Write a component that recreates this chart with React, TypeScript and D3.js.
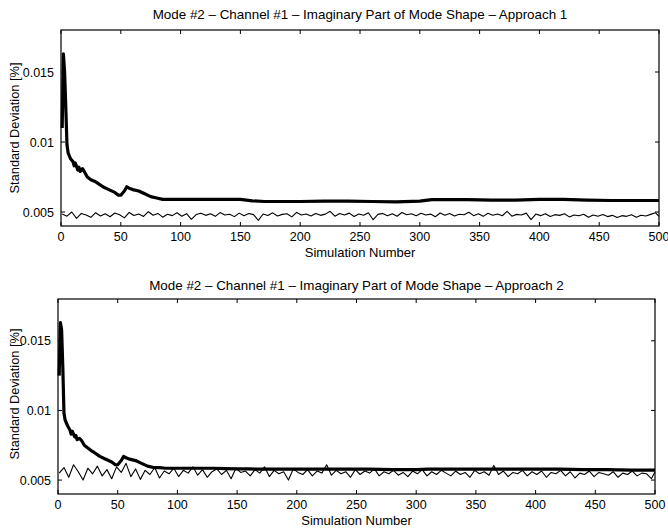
import React from "react";
import * as d3 from "d3";

// ---- data ----
const titles = [
  "Mode #2 – Channel #1 – Imaginary Part of Mode Shape – Approach 1",
  "Mode #2 – Channel #1 – Imaginary Part of Mode Shape – Approach 2",
];
const xLabel = "Simulation Number";
const yLabel = "Standard Deviation [%]";
const xTicks = [0, 50, 100, 150, 200, 250, 300, 350, 400, 450, 500];
const yTicks = [0.005, 0.01, 0.015];
const yTickLabels = ["0.005", "0.01", "0.015"];

// simulations at which the thin (per-run) series were read
const thinSims = [
  1, 5, 9, 13, 17, 21, 25, 29, 33, 37, 41, 45, 49, 53, 57, 61, 65, 69, 73, 77,
  81, 85, 89, 93, 97, 101, 105, 109, 113, 117, 121, 125, 129, 133, 137, 141, 145, 149, 153, 157,
  161, 165, 169, 173, 177, 181, 185, 189, 193, 197, 201, 205, 209, 213, 217, 221, 225, 229, 233, 237,
  241, 245, 249, 253, 257, 261, 265, 269, 273, 277, 281, 285, 289, 293, 297, 301, 305, 309, 313, 317,
  321, 325, 329, 333, 337, 341, 345, 349, 353, 357, 361, 365, 369, 373, 377, 381, 385, 389, 393, 397,
  401, 405, 409, 413, 417, 421, 425, 429, 433, 437, 441, 445, 449, 453, 457, 461, 465, 469, 473, 477,
  481, 485, 489, 493, 497, 500,
];

const thin1 = [
  0.00485, 0.0047, 0.005, 0.00455, 0.0049, 0.00478, 0.00462, 0.00495, 0.00472, 0.00488,
  0.00466, 0.00493, 0.0048, 0.00458, 0.00497, 0.00475, 0.00486, 0.00468, 0.00502, 0.00477,
  0.0049, 0.00463, 0.00484, 0.00474, 0.00495, 0.0047, 0.00488, 0.00448, 0.00482, 0.00491,
  0.00476, 0.00487, 0.00469, 0.00496, 0.00479, 0.00484, 0.00467, 0.00492, 0.00473, 0.00489,
  0.00481, 0.0044, 0.00486, 0.00475, 0.00494, 0.00471, 0.00483, 0.00488, 0.00465, 0.00497,
  0.00478, 0.00486, 0.00472, 0.0049, 0.00476, 0.00485, 0.00505, 0.0047, 0.00489, 0.00479,
  0.00492, 0.00468, 0.00486, 0.00477, 0.00495, 0.00445, 0.00483, 0.0049, 0.00474, 0.00488,
  0.0047, 0.00496, 0.0048, 0.00487, 0.00473, 0.00491, 0.00478, 0.00485, 0.00466, 0.00493,
  0.00476, 0.00489, 0.00471, 0.00484, 0.0048, 0.00498, 0.00474, 0.00487, 0.00469, 0.00491,
  0.00477, 0.00486, 0.00473, 0.00504, 0.0047, 0.00483, 0.00479, 0.00492, 0.00446, 0.00485,
  0.00474, 0.00488, 0.00468, 0.00481, 0.00476, 0.00487, 0.00465, 0.00479, 0.00473, 0.00484,
  0.00462, 0.00478, 0.0047, 0.00482, 0.00467, 0.00476, 0.0046, 0.00474, 0.00469, 0.0048,
  0.00463, 0.00477, 0.00471, 0.00483, 0.00495, 0.00468,
];

const thin2 = [
  0.0055, 0.0059, 0.0052, 0.0061, 0.0056, 0.005, 0.00585, 0.00545, 0.006, 0.0053,
  0.00575, 0.0051, 0.00595, 0.00555, 0.0062, 0.00525, 0.0058, 0.00505, 0.0057, 0.0054,
  0.0059, 0.00515, 0.00565, 0.00545, 0.00585, 0.00525, 0.0057, 0.0055, 0.00595, 0.00535,
  0.00575, 0.0052, 0.0056, 0.0058, 0.0054, 0.0057, 0.0051, 0.00585, 0.00555, 0.00565,
  0.0053, 0.00575, 0.0055, 0.00595, 0.00525, 0.0057, 0.00545, 0.0056, 0.005, 0.0058,
  0.00555, 0.0054, 0.00575, 0.0053, 0.00565, 0.0055, 0.0061, 0.00535, 0.0057, 0.00545,
  0.0056, 0.0052, 0.00575, 0.0054, 0.00565, 0.0055, 0.0058, 0.0053, 0.0056, 0.00545,
  0.0057, 0.00535, 0.00555, 0.00525, 0.00565, 0.00545, 0.00575, 0.0053, 0.0056, 0.0054,
  0.0057, 0.0055, 0.0053, 0.00565, 0.0054, 0.00555, 0.0052, 0.0057, 0.00545, 0.0056,
  0.00535, 0.00605, 0.0054, 0.00565, 0.00525, 0.00555, 0.00545, 0.0057, 0.0053, 0.0056,
  0.0054, 0.00565, 0.0052, 0.00555, 0.00545, 0.0057, 0.0053, 0.0056, 0.00515, 0.0055,
  0.0054, 0.00565, 0.00525, 0.00555, 0.00545, 0.00535, 0.0056, 0.0052, 0.0055, 0.0054,
  0.00565, 0.0053, 0.0055, 0.00545, 0.0051, 0.0056,
];

// simulations at which the thick (cumulative) series were read
const thickSims = [
  1, 2, 3, 4, 5, 6, 8, 10, 11, 12, 14, 15, 16, 18, 20, 22, 25, 28, 30, 35, 40, 45, 48, 50,
  53, 55, 57, 60, 65, 70, 75, 80, 85, 90, 100, 110, 120, 130, 140, 150, 160, 170, 180, 200,
  220, 240, 260, 280, 300, 310, 320, 340, 360, 380, 400, 420, 440, 460, 480, 500,
];

const thick1 = [
  0.011, 0.0163, 0.015, 0.0125, 0.0098, 0.0092, 0.0088, 0.0086, 0.0083, 0.0085, 0.008, 0.0082, 0.0079, 0.0081, 0.0078, 0.0075, 0.0073, 0.0072, 0.0071, 0.0068, 0.0066, 0.0064, 0.0062, 0.0062,
  0.0065, 0.0068, 0.0067, 0.0066, 0.0065, 0.0063, 0.0061, 0.006, 0.0059, 0.0059, 0.0059, 0.0059, 0.0059, 0.0059, 0.0059, 0.0059, 0.0058, 0.00575, 0.00575, 0.00575,
  0.00578, 0.00578, 0.00575, 0.00572, 0.00578, 0.00588, 0.00588, 0.00588, 0.00585, 0.00585, 0.0059, 0.0059, 0.00585, 0.00582, 0.00582, 0.00582,
];

const thick2 = [
  0.0125, 0.0163, 0.0158, 0.0132, 0.0098, 0.0093, 0.0089, 0.0086, 0.0083, 0.0085, 0.0081, 0.0082, 0.0079, 0.008, 0.0078, 0.0075, 0.0073, 0.0071, 0.007, 0.0067, 0.0065, 0.0063, 0.0061, 0.0061,
  0.0064, 0.0067, 0.0066, 0.0065, 0.0064, 0.0062, 0.006, 0.0059, 0.0059, 0.00585, 0.00585, 0.00585, 0.00585, 0.00585, 0.00582, 0.0058, 0.0058, 0.00578, 0.00578, 0.00578,
  0.00578, 0.00578, 0.00578, 0.00575, 0.00575, 0.00578, 0.00578, 0.00578, 0.00578, 0.00578, 0.00578, 0.00578, 0.00575, 0.00575, 0.00572, 0.00572,
];

const panels = [
  { title: titles[0], thin: thin1, thick: thick1, left: 61, right: 659, top: 30, bottom: 226, titleY: 19, yLabelY: 128 },
  { title: titles[1], thin: thin2, thick: thick2, left: 58, right: 655, top: 299, bottom: 494, titleY: 290, yLabelY: 394 },
];

const FONT = "'Liberation Sans', Arial, Helvetica, sans-serif";

function Panel({ p }: { p: (typeof panels)[number] }) {
  const x = d3.scaleLinear().domain([0, 500]).range([p.left, p.right]);
  const y = d3.scaleLinear().domain([0.004, 0.018]).range([p.bottom, p.top]);
  const thinLine = d3
    .line<number>()
    .x((_, i) => x(thinSims[i]))
    .y((d) => y(d));
  const thickLine = d3
    .line<number>()
    .x((_, i) => x(thickSims[i]))
    .y((d) => y(d));
  const tl = 4;
  const cx = (p.left + p.right) / 2;
  return (
    <g>
      <text x={cx} y={p.titleY} textAnchor="middle" fontSize={13.4} fontFamily={FONT}>
        {p.title}
      </text>
      <rect x={p.left} y={p.top} width={p.right - p.left} height={p.bottom - p.top} fill="none" stroke="#000" strokeWidth={1.2} />
      {xTicks.map((t) => (
        <g key={"x" + t}>
          <line x1={x(t)} x2={x(t)} y1={p.bottom} y2={p.bottom - tl} stroke="#000" />
          <line x1={x(t)} x2={x(t)} y1={p.top} y2={p.top + tl} stroke="#000" />
          <text x={x(t)} y={p.bottom + 15} textAnchor="middle" fontSize={12.5} fontFamily={FONT}>
            {t}
          </text>
        </g>
      ))}
      {yTicks.map((t, i) => (
        <g key={"y" + t}>
          <line x1={p.left} x2={p.left + tl} y1={y(t)} y2={y(t)} stroke="#000" />
          <line x1={p.right} x2={p.right - tl} y1={y(t)} y2={y(t)} stroke="#000" />
          <text x={p.left - 7} y={y(t) + 4.5} textAnchor="end" fontSize={12.5} fontFamily={FONT}>
            {yTickLabels[i]}
          </text>
        </g>
      ))}
      <text x={cx} y={p.bottom + 31} textAnchor="middle" fontSize={13} fontFamily={FONT}>
        {xLabel}
      </text>
      <text
        transform={`translate(19,${p.yLabelY}) rotate(-90)`}
        textAnchor="middle"
        fontSize={12.8}
        fontFamily={FONT}
      >
        {yLabel}
      </text>
      <path d={thinLine(p.thin) || ""} fill="none" stroke="#000" strokeWidth={1.1} strokeLinejoin="round" />
      <path d={thickLine(p.thick) || ""} fill="none" stroke="#000" strokeWidth={3.2} strokeLinejoin="round" />
    </g>
  );
}

export default function App() {
  return (
    <svg width={668} height={531} style={{ position: "absolute", left: 0, top: 0, background: "#fff" }}>
      <rect width={668} height={531} fill="#fff" />
      {panels.map((p, i) => (
        <Panel key={i} p={p} />
      ))}
    </svg>
  );
}
